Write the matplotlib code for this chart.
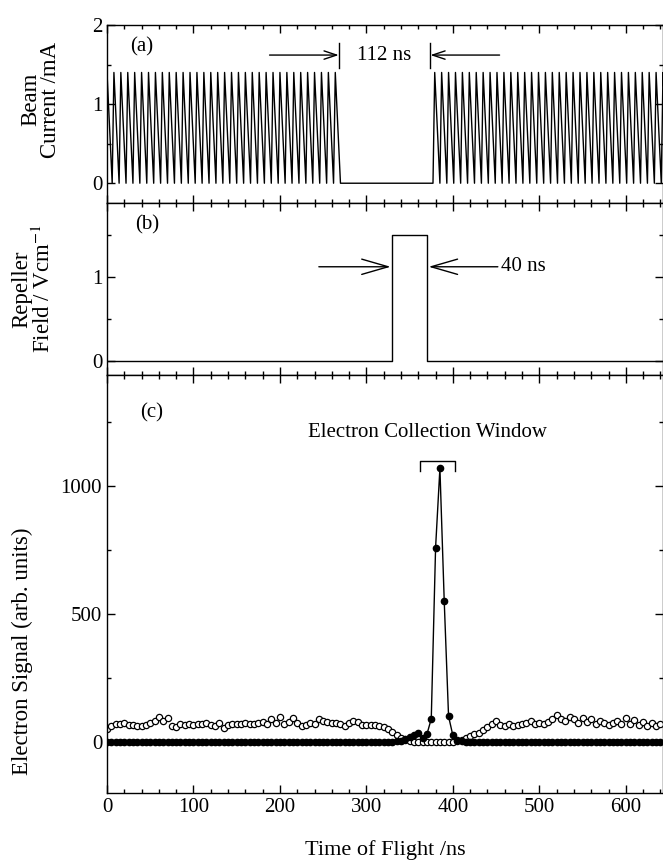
import numpy as np
import matplotlib
matplotlib.use("Agg")
from matplotlib import pyplot as plt
from matplotlib.ticker import MultipleLocator

plt.rcParams['font.family'] = ['Liberation Serif', 'DejaVu Serif']
plt.rcParams['mathtext.fontset'] = 'stix'

# (a) beam current: sawtooth pulse train with a gap
pulse_period = 8.0        # ns
pulse_peak = 1.4          # mA
pulse_rise = 2.0          # ns
pulse_fall = 6.0          # ns
first_peak = 0.0
last_peak_before_gap = 264.0
first_peak_after_gap = 379.0
t_end = 660.0

# (b) repeller pulse
repeller_t = [0, 330, 330, 370, 370, 660]
repeller_v = [0, 0, 1.5, 1.5, 0, 0]

# (c) electron signal, sampled every 5 ns from 0 to 640 ns
tof = np.arange(0, 645, 5)
signal_on = [
    0, 0, 0, 0, 0, 0, 0, 0, 0, 0,
    0, 0, 0, 0, 0, 0, 0, 0, 0, 0,
    0, 0, 0, 0, 0, 0, 0, 0, 0, 0,
    0, 0, 0, 0, 0, 0, 0, 0, 0, 0,
    0, 0, 0, 0, 0, 0, 0, 0, 0, 0,
    0, 0, 0, 0, 0, 0, 0, 0, 0, 0,
    0, 0, 0, 0, 0, 0, 0, 2, 3, 12,
    20, 28, 35, 15, 30, 90, 760, 1070, 550, 100,
    25, 8, 2, 0, 0, 0, 0, 0, 0, 0,
    0, 0, 0, 0, 0, 0, 0, 0, 0, 0,
    0, 0, 0, 0, 0, 0, 0, 0, 0, 0,
    0, 0, 0, 0, 0, 0, 0, 0, 0, 0,
    0, 0, 0, 0, 0, 0, 0, 0, 0,
]
signal_off = [
    50, 62, 70, 68, 72, 65, 66, 64, 62, 66,
    75, 82, 98, 80, 95, 62, 58, 68, 66, 68,
    66, 70, 70, 72, 66, 64, 72, 55, 66, 70,
    70, 68, 72, 70, 68, 72, 78, 68, 88, 72,
    98, 70, 78, 92, 72, 62, 66, 72, 70, 88,
    80, 78, 72, 74, 70, 62, 72, 82, 78, 66,
    66, 66, 66, 64, 60, 50, 38, 26, 14, 6,
    2, 0, 0, 0, 0, 0, 0, 0, 0, 0,
    0, 2, 8, 14, 22, 30, 36, 48, 60, 70,
    82, 66, 62, 70, 64, 66, 70, 75, 80, 70,
    74, 70, 78, 88, 104, 90, 82, 96, 88, 72,
    94, 76, 88, 68, 80, 74, 66, 72, 80, 68,
    92, 70, 84, 66, 76, 64, 72, 62, 70,
]

# build the sawtooth path
peaks = np.concatenate([np.arange(first_peak, last_peak_before_gap + 0.1, pulse_period),
                        np.arange(first_peak_after_gap, t_end, pulse_period)])
beam_t, beam_i = [], []
for p in peaks:
    beam_t += [p - pulse_rise, p, p + pulse_fall]
    beam_i += [0, pulse_peak, 0]

W, H = 663, 868
fig = plt.figure(figsize=(W / 100, H / 100), dpi=100)
left = 107 / W
width = 1 - left
def frac(y):
    return 1 - y / H

ax1 = fig.add_axes([left, frac(203), width, frac(25) - frac(203)])
ax2 = fig.add_axes([left, frac(375), width, frac(203) - frac(375)])
ax3 = fig.add_axes([left, frac(793), width, frac(375) - frac(793)])

fs = 15
fl = 16.5
for ax in (ax1, ax2, ax3):
    ax.set_xlim(0, 643)
    ax.xaxis.set_major_locator(MultipleLocator(100))
    ax.xaxis.set_minor_locator(MultipleLocator(20))
    ax.tick_params(which='both', direction='in', top=True, right=True, labelsize=fs, width=1)
    ax.tick_params(which='major', length=6)
    ax.tick_params(which='minor', length=3)
    for s in ax.spines.values():
        s.set_linewidth(1.0)

# (a)
ax1.plot(beam_t, beam_i, color='black', lw=1.0)
ax1.set_ylim(-0.25, 2)
ax1.yaxis.set_major_locator(MultipleLocator(1))
ax1.yaxis.set_minor_locator(MultipleLocator(0.5))
ax1.tick_params(axis='x', labelbottom=False)
ax1.set_ylabel('Beam\nCurrent /mA', fontsize=fl, va='center', linespacing=0.95)
ax1.yaxis.set_label_coords(-0.119, 0.58)
ax1.text(27, 1.72, '(a)', fontsize=fs, va='center')
ax1.text(321, 1.62, '112 ns', fontsize=fs, ha='center', va='center')
arr_a = dict(arrowstyle='->,head_length=0.9,head_width=0.3', lw=1.0, color='black',
             shrinkA=0, shrinkB=0)
ax1.annotate('', xy=(268, 1.62), xytext=(188, 1.62), arrowprops=arr_a)
ax1.annotate('', xy=(374, 1.62), xytext=(454, 1.62), arrowprops=arr_a)
ax1.plot([268, 268], [1.46, 1.77], color='black', lw=1.0)
ax1.plot([374, 374], [1.46, 1.77], color='black', lw=1.0)

# (b)
ax2.plot(repeller_t, repeller_v, color='black', lw=1.0)
ax2.set_ylim(-0.17, 1.88)
ax2.yaxis.set_major_locator(MultipleLocator(1))
ax2.yaxis.set_minor_locator(MultipleLocator(0.5))
ax2.tick_params(axis='x', labelbottom=False)
ax2.set_ylabel('Repeller\nField / Vcm$^{-1}$', fontsize=fl, va='center', linespacing=0.95)
ax2.yaxis.set_label_coords(-0.133, 0.5)
ax2.text(33, 1.62, '(b)', fontsize=fs, va='center')
arr_b = dict(arrowstyle='->,head_length=1.9,head_width=0.55', lw=1.0, color='black',
             shrinkA=0, shrinkB=0)
ax2.annotate('', xy=(328, 1.12), xytext=(245, 1.12), arrowprops=arr_b)
ax2.annotate('', xy=(372, 1.12), xytext=(452, 1.12), arrowprops=arr_b)
ax2.text(456, 1.12, '40 ns', fontsize=fs, va='center')

# (c)
ax3.plot(tof, signal_off, 'o', color='black', mfc='white', mec='black', ms=4.5, mew=0.9)
ax3.plot(tof, signal_on, '-o', color='black', ms=4.5, lw=1.0)
ax3.set_ylim(-200, 1435)
ax3.yaxis.set_major_locator(MultipleLocator(500))
ax3.yaxis.set_minor_locator(MultipleLocator(250))
ax3.set_ylabel('Electron Signal (arb. units)', fontsize=fl, va='center')
ax3.yaxis.set_label_coords(-0.153, 0.338)
ax3.set_xlabel('Time of Flight /ns', fontsize=16, labelpad=17)
ax3.text(38, 1285, '(c)', fontsize=fs, va='center')
ax3.text(232, 1212, 'Electron Collection Window', fontsize=fs, ha='left', va='center')
ax3.plot([362, 362, 402, 402], [1060, 1100, 1100, 1060], color='black', lw=1.0)

fig.savefig('out.png', dpi=100)
